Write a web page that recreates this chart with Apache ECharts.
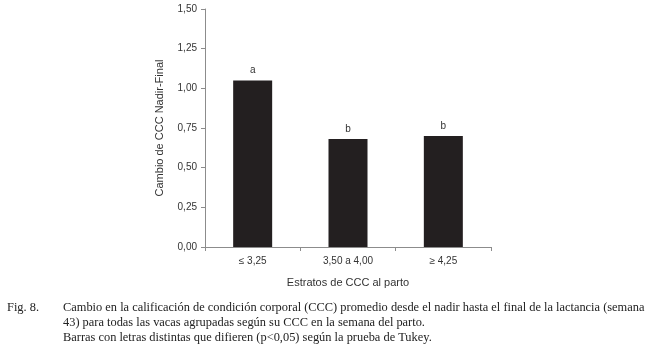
<!DOCTYPE html>
<html>
<head>
<meta charset="utf-8">
<script src="https://cdn.jsdelivr.net/npm/echarts@6/dist/echarts.min.js"></script>
<style>
  html, body { margin: 0; padding: 0; background: #fff; }
  #chart { width: 646px; height: 352px; }
</style>
</head>
<body>
<div id="chart"></div>
<script>
// data
const categories = ['≤ 3,25', '3,50 a 4,00', '≥ 4,25'];
const values = [1.05, 0.68, 0.70];
const letters = ['a', 'b', 'b'];
const captionLines = [
  'Cambio en la calificación de condición corporal (CCC) promedio desde el nadir hasta el final de la lactancia (semana',
  '43) para todas las vacas agrupadas según su CCC en la semana del parto.',
  'Barras con letras distintas que difieren (p<0,05) según la prueba de Tukey.'
];

const chart = echarts.init(document.getElementById('chart'), null, { renderer: 'canvas' });
const axisColor = '#8c8c8c';
const textColor = '#333';
const captionFont = '12.4px "Liberation Serif"';

const captionTexts = captionLines.map((line, i) => ({
  type: 'text',
  left: 63,
  top: 302 + i * 15,
  style: { text: line, font: captionFont, fill: '#222' }
}));

const option = {
  animation: false,
  textStyle: { fontFamily: 'Liberation Sans' },
  grid: { left: 205, top: 9, width: 286, height: 238, containLabel: false },
  xAxis: {
    type: 'category',
    data: categories,
    name: 'Estratos de CCC al parto',
    nameLocation: 'middle',
    nameGap: 30,
    nameTextStyle: { color: textColor, fontSize: 11 },
    axisLine: { lineStyle: { color: axisColor } },
    axisTick: { show: true, alignWithLabel: false, length: 4, lineStyle: { color: axisColor } },
    axisLabel: { color: textColor, fontSize: 10, margin: 9 }
  },
  yAxis: {
    type: 'value',
    min: 0,
    max: 1.5,
    interval: 0.25,
    name: 'Cambio de CCC Nadir-Final',
    nameLocation: 'middle',
    nameGap: 40,
    nameRotate: 90,
    nameTextStyle: { color: textColor, fontSize: 11 },
    axisLine: { show: true, lineStyle: { color: axisColor } },
    axisTick: { show: true, length: 4, lineStyle: { color: axisColor } },
    splitLine: { show: false },
    axisLabel: {
      color: textColor,
      fontSize: 10,
      margin: 8,
      formatter: v => v.toFixed(2).replace('.', ',')
    }
  },
  series: [{
    type: 'bar',
    data: values,
    barWidth: 39,
    itemStyle: { color: '#231f20' },
    label: {
      show: true,
      position: 'top',
      distance: 5,
      color: textColor,
      fontSize: 10,
      formatter: p => letters[p.dataIndex]
    }
  }],
  graphic: [
    {
      type: 'text',
      left: 7,
      top: 302,
      style: { text: 'Fig. 8.', font: captionFont, fill: '#222' }
    },
    ...captionTexts
  ]
};

chart.setOption(option);
window.addEventListener('resize', chart.resize);
</script>
</body>
</html>
